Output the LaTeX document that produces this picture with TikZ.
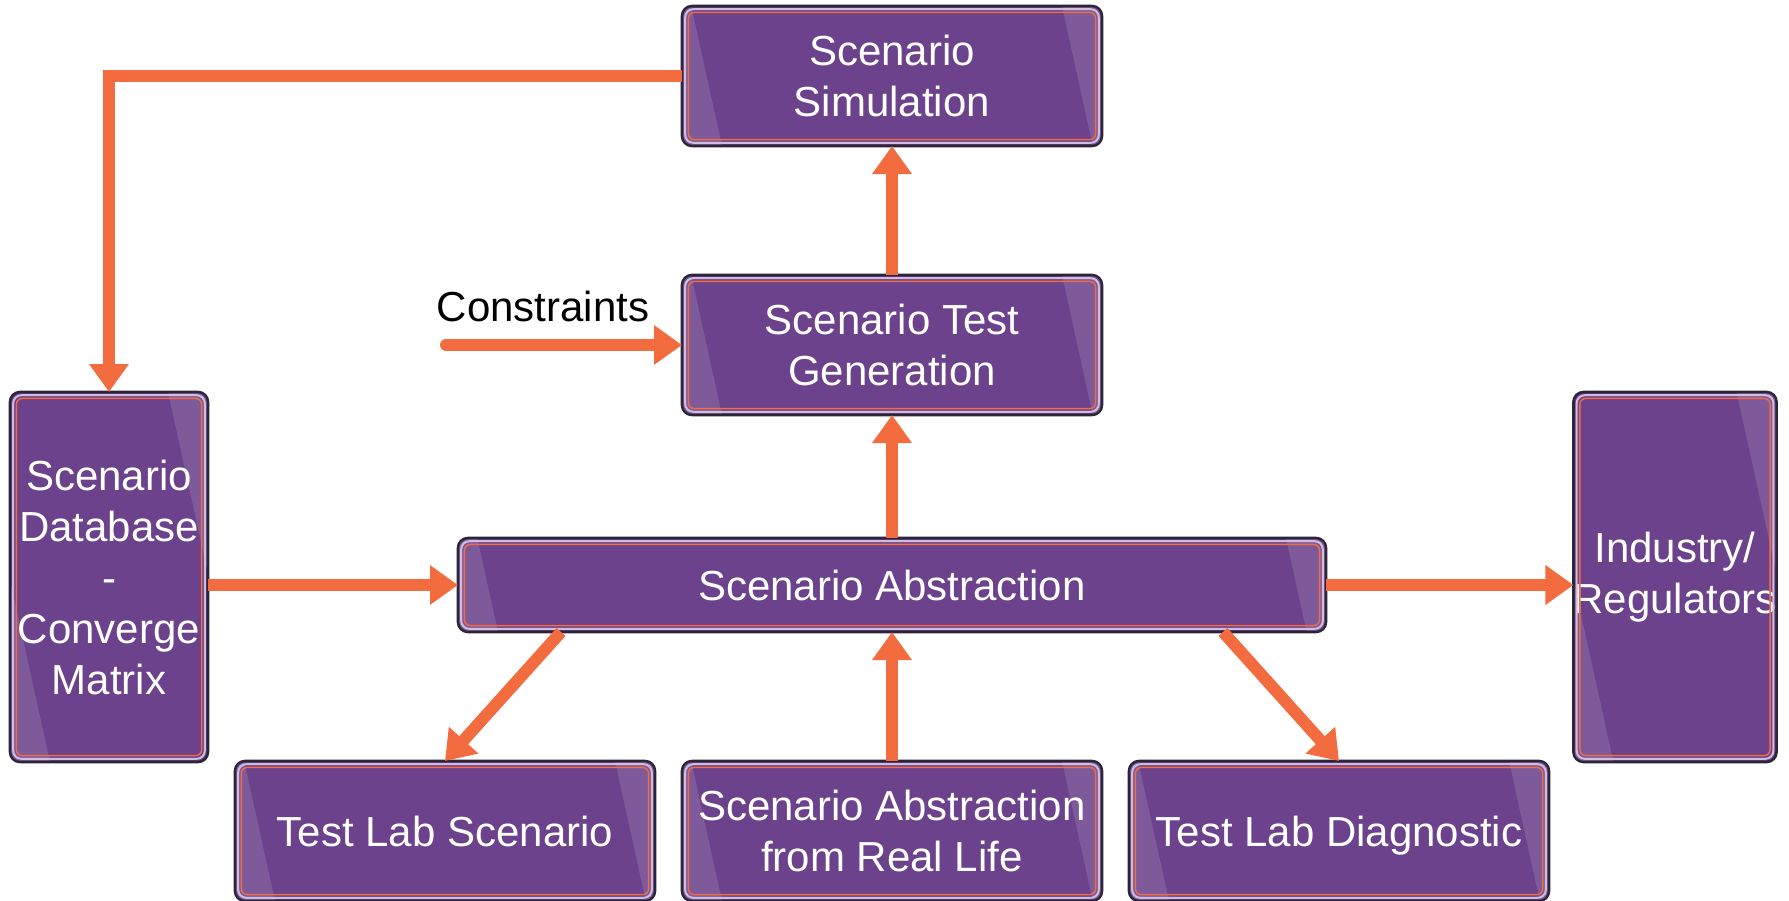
\documentclass[tikz,border=0pt]{standalone}
\usepackage{fontspec}
\setmainfont{Liberation Sans}
\usetikzlibrary{arrows.meta,calc}

\definecolor{boxfill}{RGB}{107,66,139}
\definecolor{boxedge}{RGB}{46,36,56}
\definecolor{boxlav}{RGB}{205,190,225}
\definecolor{arrline}{RGB}{243,108,64}

\begin{document}
\begin{tikzpicture}[x=0.5pt,y=-0.5pt,
        pbox/.style={draw=boxedge,line width=1.3pt,fill=boxfill,rounded corners=5pt,
            text=white,align=center,inner sep=0pt,outer sep=0pt,
            minimum width=210pt,minimum height=70pt,
            font=\fontsize{21}{25.5}\selectfont},
        arr/.style={draw=arrline,line width=6pt,-{Triangle[length=14pt,width=19pt]}},
        gloss/.style={fill=white,fill opacity=0.13}]
        \useasboundingbox (0,0) rectangle (1789,900);

        \coordinate (S) at (892,76);
        \coordinate (G) at (892,345);
        \coordinate (A) at (892,585);
        \coordinate (D) at (109,577);
        \coordinate (I) at (1675,577);
        \coordinate (L) at (445,831);
        \coordinate (R) at (892,831);
        \coordinate (T) at (1339,831);

        \node[pbox] (sim) at (S) {Scenario\\Simulation};
        \node[pbox] (gen) at (G) {Scenario Test\\Generation};
        \node[pbox,minimum width=434pt,minimum height=47pt] (abs) at (A) {Scenario Abstraction};
        \node[pbox,minimum width=99pt,minimum height=185pt] (db) at (D) {Scenario\\Database\\-\\Converge\\Matrix};
        \node[pbox,minimum width=99pt,minimum height=185pt] (ind) at (I) {Industry/\\Regulators};
        \node[pbox] (tls) at (L) {Test Lab Scenario};
        \node[pbox] (real) at (R) {Scenario Abstraction\\from Real Life};
        \node[pbox,text depth=0pt] (tld) at (T) {Test Lab Diagnostic};

        \foreach \b in {sim,gen,abs,db,ind,tls,real,tld}{
            \begin{scope}
                \clip[rounded corners=4pt] ([shift={(0.6pt,0.6pt)}]\b.south west) rectangle ([shift={(-0.6pt,-0.6pt)}]\b.north east);
                \fill[gloss] let \p1=(\b.north east), \p2=(\b.south west) in
                    (\x1-20pt,\y1) -- (\x1+5pt,\y1) -- (\x1+5pt,\y2) -- ({\x1-20pt+0.22*(\y1-\y2)},\y2) -- cycle
                    (\x2-5pt,\y1) -- ({\x2+20pt-0.22*(\y1-\y2)},\y1) -- (\x2+20pt,\y2) -- (\x2-5pt,\y2) -- cycle;
            \end{scope}
            \draw[boxlav,line width=1pt,rounded corners=4pt] ([shift={(1.6pt,1.6pt)}]\b.south west) rectangle ([shift={(-1.6pt,-1.6pt)}]\b.north east);
            \draw[arrline,line width=0.7pt,rounded corners=3pt] ([shift={(3.2pt,3.2pt)}]\b.south west) rectangle ([shift={(-3.2pt,-3.2pt)}]\b.north east);
        }

        \node[font=\fontsize{21}{25.5}\selectfont] (cons) at (543,306) {Constraints};
        \coordinate (C) at (446,345);

        \draw[arr] (sim.west) -| (db.north);
        \draw[arr] (gen.north) -- (sim.south);
        \draw[arr,line cap=round] (C) -- (gen.west);
        \draw[arr] (abs.north) -- (gen.south);
        \draw[arr] (db.east |- abs.west) -- (abs.west);
        \draw[arr] (abs.east) -- (ind.west |- abs.east);
        \draw[arr] (abs.south west) ++(103,0) -- (tls.north);
        \draw[arr] (real.north) -- (abs.south);
        \draw[arr] (abs.south east) ++(-103,0) -- (tld.north);
    \end{tikzpicture}
\end{document}
